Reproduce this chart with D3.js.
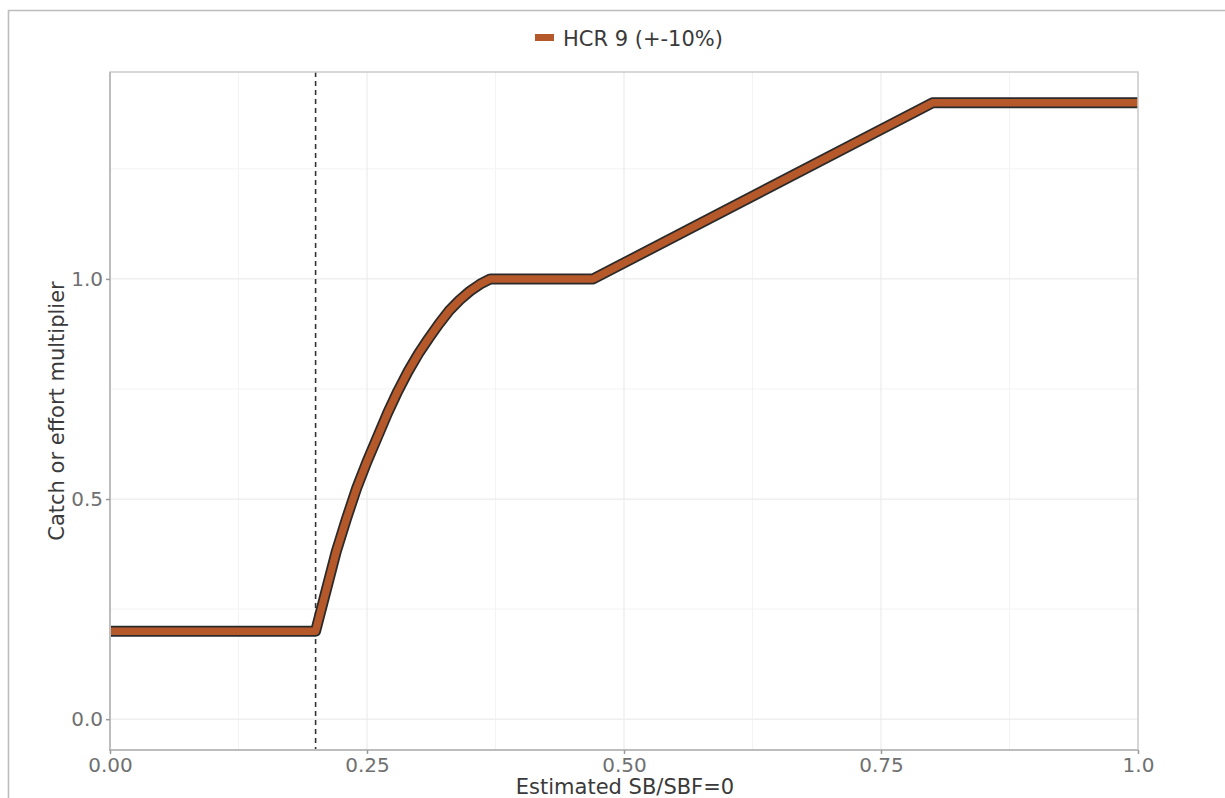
<!DOCTYPE html>
<html>
<head>
<meta charset="utf-8">
<script src="https://cdn.jsdelivr.net/npm/d3@7"></script>
<style>
  html, body { margin: 0; padding: 0; background: #fff; }
  svg { display: block; font-family: "DejaVu Sans", sans-serif; }
</style>
</head>
<body>
<svg id="chart" width="1225" height="798"></svg>
<script>
// ---- data ----
const seriesName = "HCR 9 (+-10%)";
const xValues = [0.00, 0.20, 0.21, 0.22, 0.23, 0.24, 0.25, 0.26, 0.27, 0.28, 0.29, 0.30, 0.31, 0.32, 0.33, 0.34, 0.35, 0.36, 0.37, 0.47, 0.80, 1.00];
const yValues = [0.20, 0.20, 0.29, 0.38, 0.455, 0.525, 0.585, 0.64, 0.695, 0.745, 0.79, 0.83, 0.865, 0.898, 0.928, 0.952, 0.972, 0.988, 1.00, 1.00, 1.40, 1.40];
const xTicks = [0, 0.25, 0.5, 0.75, 1.0];
const xTickLabels = ["0.00", "0.25", "0.50", "0.75", "1.0"];
const yTicks = [0, 0.5, 1.0];
const yTickLabels = ["0.0", "0.5", "1.0"];
const xMinor = [0.125, 0.375, 0.625, 0.875];
const yMinor = [0.25, 0.75, 1.25];
const refLineX = [0.2];
const xTitle = "Estimated SB/SBF=0";
const yTitle = "Catch or effort multiplier";

const data = xValues.map((x, i) => ({ x, y: yValues[i] }));

const svg = d3.select("#chart");
const W = 1225, H = 798;
const panel = { left: 110, top: 72, right: 1138, bottom: 750 };

const x = d3.scaleLinear().domain([0, 1]).range([panel.left, panel.right]);
const y = d3.scaleLinear().domain([-0.07, 1.47]).range([panel.bottom, panel.top]);

// outer frame (partial, like screenshot)
svg.append("path")
  .attr("d", `M8.5,${H} L8.5,10.5 L${W},10.5`)
  .attr("fill", "none").attr("stroke", "#bdbdbd").attr("stroke-width", 1.6);

// clip
svg.append("defs").append("clipPath").attr("id", "clip")
  .append("rect").attr("x", panel.left).attr("y", panel.top)
  .attr("width", panel.right - panel.left).attr("height", panel.bottom - panel.top);

const g = svg.append("g");

// minor grid
g.selectAll(".xminor").data(xMinor).join("line")
  .attr("x1", d => x(d)).attr("x2", d => x(d))
  .attr("y1", panel.top).attr("y2", panel.bottom)
  .attr("stroke", "#f3f3f3").attr("stroke-width", 1);
g.selectAll(".yminor").data(yMinor).join("line")
  .attr("y1", d => y(d)).attr("y2", d => y(d))
  .attr("x1", panel.left).attr("x2", panel.right)
  .attr("stroke", "#f3f3f3").attr("stroke-width", 1);
// major grid
g.selectAll(".xmajor").data(xTicks).join("line")
  .attr("x1", d => x(d)).attr("x2", d => x(d))
  .attr("y1", panel.top).attr("y2", panel.bottom)
  .attr("stroke", "#ebebeb").attr("stroke-width", 1.2);
g.selectAll(".ymajor").data(yTicks).join("line")
  .attr("y1", d => y(d)).attr("y2", d => y(d))
  .attr("x1", panel.left).attr("x2", panel.right)
  .attr("stroke", "#ebebeb").attr("stroke-width", 1.2);

// reference dashed line
g.selectAll(".ref").data(refLineX).join("line")
  .attr("x1", d => x(d)).attr("x2", d => x(d))
  .attr("y1", panel.top).attr("y2", panel.bottom)
  .attr("stroke", "#333").attr("stroke-width", 1.6)
  .attr("stroke-dasharray", "5,4");

// data line: dark outline + orange core
const line = d3.line().x(d => x(d.x)).y(d => y(d.y)).curve(d3.curveLinear);
const lg = svg.append("g").attr("clip-path", "url(#clip)");
lg.append("path").datum(data).attr("d", line)
  .attr("fill", "none").attr("stroke", "#2a2a2a").attr("stroke-width", 11)
  .attr("stroke-linejoin", "round").attr("stroke-linecap", "butt");
lg.append("path").datum(data).attr("d", line)
  .attr("fill", "none").attr("stroke", "#b5582a").attr("stroke-width", 7.5)
  .attr("stroke-linejoin", "round").attr("stroke-linecap", "butt");

// panel border
svg.append("rect").attr("x", panel.left).attr("y", panel.top)
  .attr("width", panel.right - panel.left).attr("height", panel.bottom - panel.top)
  .attr("fill", "none").attr("stroke", "#cccccc").attr("stroke-width", 1.5);
// axis lines darker
svg.append("path")
  .attr("d", `M${panel.left},${panel.top} L${panel.left},${panel.bottom} L${panel.right},${panel.bottom}`)
  .attr("fill", "none").attr("stroke", "#bdbdbd").attr("stroke-width", 2);

// axes
const xAxis = d3.axisBottom(x).tickValues(xTicks)
  .tickFormat((d, i) => xTickLabels[i]).tickSize(4).tickPadding(4);
const xa = svg.append("g").attr("transform", `translate(0,${panel.bottom})`).call(xAxis);
xa.select(".domain").remove();
xa.selectAll(".tick line").attr("stroke", "#999").attr("stroke-width", 1.5);
xa.selectAll(".tick text").attr("fill", "#707070").attr("font-size", 20)
  .attr("font-family", "DejaVu Sans");

const yAxis = d3.axisLeft(y).tickValues(yTicks)
  .tickFormat((d, i) => yTickLabels[i]).tickSize(4).tickPadding(3);
const ya = svg.append("g").attr("transform", `translate(${panel.left},0)`).call(yAxis);
ya.select(".domain").remove();
ya.selectAll(".tick line").attr("stroke", "#999").attr("stroke-width", 1.5);
ya.selectAll(".tick text").attr("fill", "#707070").attr("font-size", 20)
  .attr("font-family", "DejaVu Sans");

// titles
svg.append("text").attr("x", (panel.left + panel.right) / 2 + 1).attr("y", 794)
  .attr("text-anchor", "middle").attr("font-size", 21).attr("fill", "#3a3a3a")
  .text(xTitle);
svg.append("text")
  .attr("transform", `translate(64,${(panel.top + panel.bottom) / 2}) rotate(-90)`)
  .attr("text-anchor", "middle").attr("font-size", 21).attr("fill", "#3a3a3a")
  .text(yTitle);

// legend
const leg = svg.append("g");
leg.append("rect").attr("x", 535).attr("y", 34).attr("width", 19).attr("height", 7)
  .attr("fill", "#b5582a");
leg.append("text").attr("x", 563).attr("y", 46).attr("font-size", 21)
  .attr("fill", "#3a3a3a").text(seriesName);
</script>
</body>
</html>
